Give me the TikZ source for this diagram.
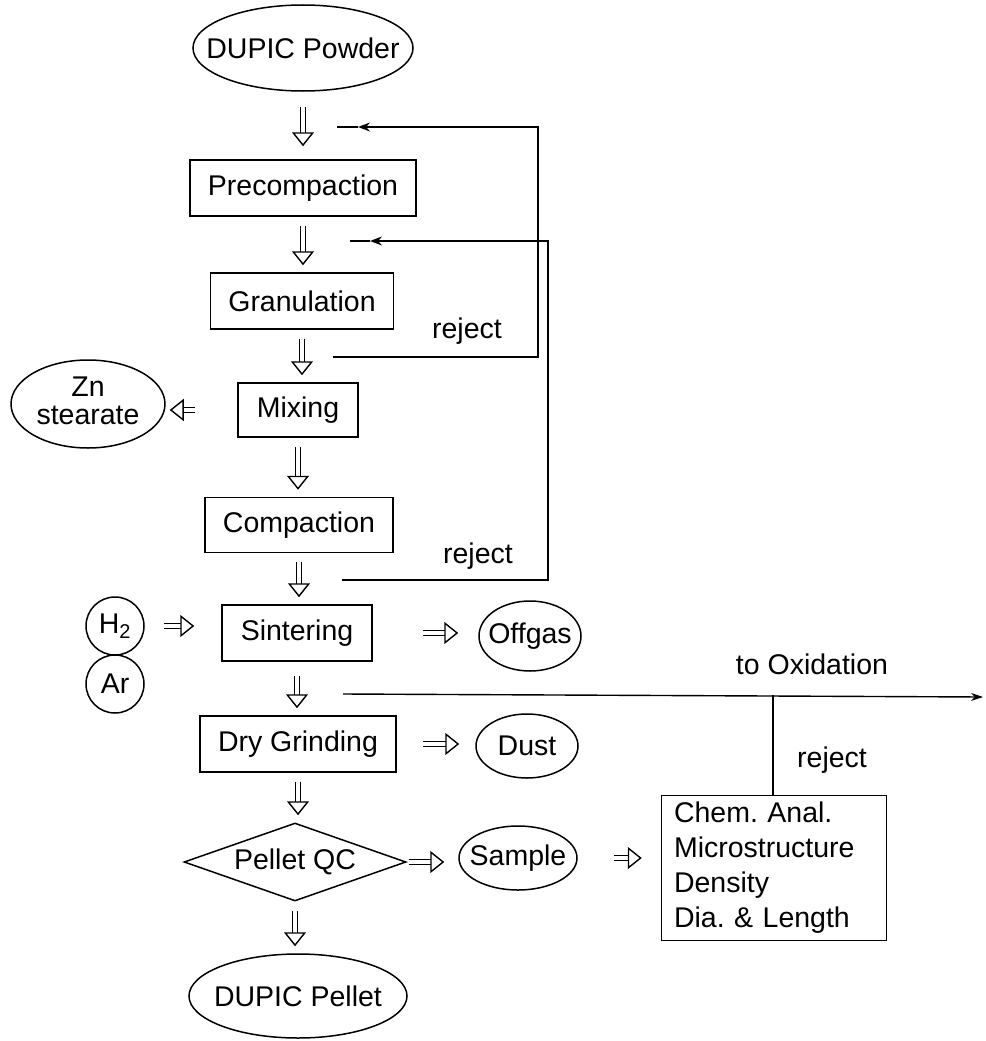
\documentclass[tikz,border=0pt]{standalone}
\usepackage{fontspec}
\setmainfont{Liberation Sans}
\frenchspacing
\usetikzlibrary{arrows.meta,shapes.geometric}
\newcommand{\tight}[1]{\makebox[0pt]{#1}}
\begin{document}
\begin{tikzpicture}[x=1pt,y=-1pt,
  every node/.style={font=\fontsize{28.5}{34}\selectfont},
  proc/.style={draw, line width=1.5pt, inner sep=0pt, minimum height=56pt},
  term/.style={draw, ellipse, line width=1.5pt, inner sep=0pt},
  gas/.style={draw, circle, line width=1.5pt, inner sep=0pt, minimum size=58pt},
  warrow/.style={double, double distance=4pt, line width=1.4pt, -{Triangle[open, length=14pt, width=22pt]}},
  vflow/.style={warrow, shorten <=9pt, shorten >=7pt},
  link/.style={line width=1.4pt},
  lbl/.style={inner sep=0pt}]
\useasboundingbox (0,0) rectangle (985,1041);
% main column
\node[term, minimum width=220pt, minimum height=86pt] (powder) at (303,48) {\tight{DUPIC Powder}};
\node[proc, minimum width=226pt] (precomp) at (303,188) {Precompaction};
\node[proc, minimum width=183pt] (gran) at (302,301) {Granulation};
\node[proc, minimum width=120pt, minimum height=54pt] (mix) at (298,410) {Mixing};
\node[proc, minimum width=188pt, minimum height=55pt] (comp) at (299,525) {Compaction};
\node[proc, minimum width=150pt] (sint) at (297,633) {Sintering};
\node[proc, minimum width=196pt] (grind) at (298,744) {Dry Grinding};
\node[draw, diamond, aspect=2.8, line width=1.5pt, inner sep=0pt, minimum width=222pt, minimum height=78pt] (qc) at (295,862) {Pellet QC};
\node[term, minimum width=218pt, minimum height=84pt] (pellet) at (298,996) {\tight{DUPIC Pellet}};
% side nodes
\node[term, minimum width=154pt, minimum height=88pt] (zn) at (88,404) {\tight{\begin{tabular}{@{}c@{}}Zn\\[-6pt]stearate\end{tabular}}};
\node[gas] (h2) at (115,626) {H\textsubscript{2}};
\node[gas] (ar) at (115,684) {Ar};
\node[term, minimum width=102pt, minimum height=70pt] (offgas) at (530,636) {\tight{Offgas}};
\node[term, minimum width=102pt, minimum height=64pt] (dust) at (527,746) {\tight{Dust}};
\node[term, minimum width=118pt, minimum height=64pt] (sample) at (518,858) {\tight{Sample}};
\node[draw, line width=1.5pt, inner sep=0pt, minimum width=225pt, minimum height=145pt, text width=200pt, align=left, font=\fontsize{28.5}{35}\selectfont] (chem) at (774,868) {Chem. Anal.\\Microstructure\\Density\\Dia. \& Length};
% vertical flow arrows
\draw[vflow, shorten <=15pt, shorten >=13pt] (powder.south) -- (powder.south |- precomp.north);
\draw[vflow] (precomp.south) -- (precomp.south |- gran.north);
\draw[vflow] (gran.south) -- (gran.south |- mix.north);
\draw[vflow] (mix.south) -- (mix.south |- comp.north);
\draw[vflow] (comp.south) -- (comp.south |- sint.north);
\draw[vflow, shorten <=14pt] (sint.south) -- (sint.south |- grind.north);
\draw[vflow] (grind.south) -- (grind.south |- qc.north);
\draw[vflow] (qc.south) -- (qc.south |- pellet.north);
% horizontal flow arrows
\draw[warrow, shorten <=42pt, shorten >=4pt] (mix.west) -- (mix.west -| zn.east);
\draw[warrow, shorten <=19pt, shorten >=27pt] (h2.east) -- (h2.east -| sint.west);
\draw[warrow, shorten <=50pt, shorten >=20pt] (sint.east) -- (sint.east -| offgas.west);
\draw[warrow, shorten <=26pt, shorten >=16pt] (grind.east) -- (grind.east -| dust.west);
\draw[warrow, shorten <=2pt, shorten >=14pt] (qc.east) -- (qc.east -| sample.west);
\draw[warrow, shorten <=36pt, shorten >=19pt] (sample.east) -- (sample.east -| chem.west);
% reject loops
\coordinate (r1s) at (333,357);
\coordinate (r1e) at (337,127);
\coordinate (r2s) at (342,580);
\coordinate (r2e) at (350,241);
\draw[link, -{Stealth[length=12pt,width=9pt]}] (r1s) -- (538,357) -- (538,127) -- (358,127);
\draw[link] (358,127) -- (r1e);
\draw[link, -{Stealth[length=12pt,width=9pt]}] (r2s) -- (548,580) -- (548,241) -- (370,241);
\draw[link] (370,241) -- (r2e);
\node[lbl] (rej1) at (467,331) {reject};
\node[lbl] (rej2) at (478,556) {reject};
% to oxidation
\coordinate (oxs) at (343,694);
\coordinate (oxe) at (983,697);
\coordinate (rj) at (773,695);
\draw[link, -{Stealth[length=12pt,width=8pt]}] (oxs) -- (oxe);
\node[lbl] (ox) at (812,664) {to Oxidation};
\draw[link] (rj) -- (rj |- chem.north);
\node[lbl] (rej3) at (832,760) {reject};
\end{tikzpicture}
\end{document}
